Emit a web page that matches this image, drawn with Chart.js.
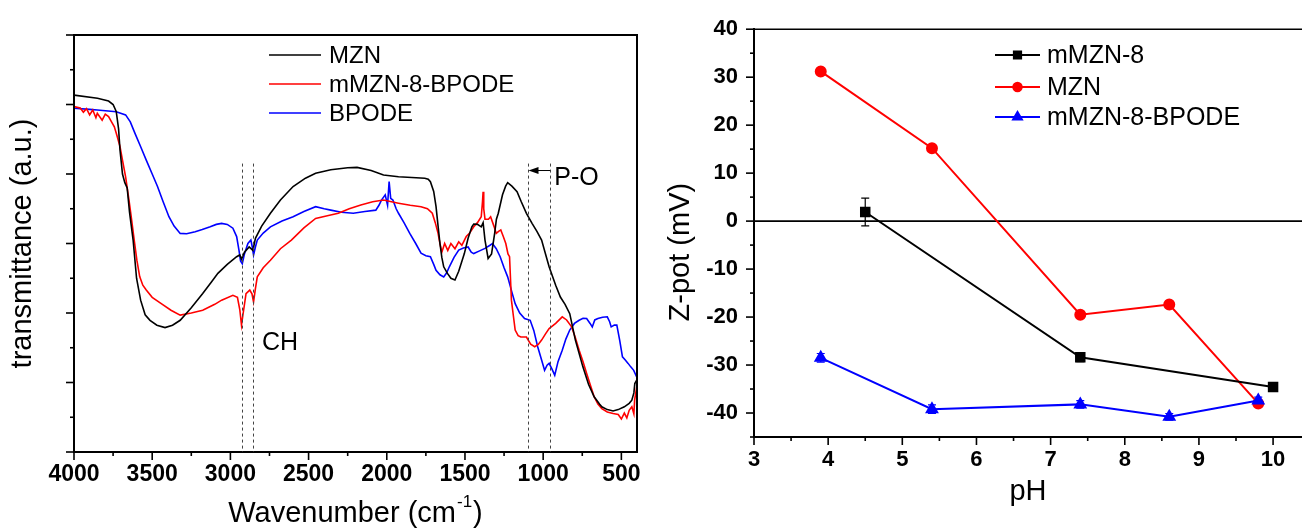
<!DOCTYPE html>
<html>
<head>
<meta charset="utf-8">
<script src="https://cdn.jsdelivr.net/npm/chart.js@4.4.1/dist/chart.umd.min.js"></script>
<style>
  html, body { margin: 0; padding: 0; background: #fff; }
  #wrap { position: relative; width: 1302px; height: 530px; overflow: hidden; }
  #ftir { position: absolute; left: 0; top: 0; }
  #zeta { position: absolute; left: 650px; top: 0; }
</style>
</head>
<body>
<div id="wrap">
  <canvas id="ftir" width="650" height="530"></canvas>
  <canvas id="zeta" width="652" height="530"></canvas>
</div>
<script>
// --- FTIR data (wavenumber / arbitrary transmittance) ---
const mznWave = [4000, 3850, 3779, 3750, 3730, 3715, 3706, 3690, 3675, 3660, 3645, 3622, 3600, 3574, 3545, 3514, 3470, 3418, 3370, 3321, 3250, 3177, 3120, 3080, 3020, 2960, 2940, 2929, 2910, 2880, 2856, 2840, 2800, 2744, 2680, 2599, 2520, 2455, 2358, 2250, 2190, 2100, 2021, 1925, 1840, 1757, 1735, 1721, 1700, 1685, 1672, 1660, 1648, 1636, 1612, 1590, 1564, 1540, 1504, 1480, 1456, 1444, 1420, 1396, 1384, 1372, 1352, 1330, 1310, 1299, 1287, 1260, 1240, 1227, 1200, 1167, 1140, 1107, 1071, 1040, 1010, 985, 962, 920, 890, 860, 830, 794, 746, 710, 674, 640, 625, 590, 553, 520, 481, 450, 433, 420, 414, 402];
const mznSignal = [10.27, 10.18, 10.10, 10.0, 9.8, 9.3, 8.7, 8.0, 7.75, 7.6, 6.9, 6.1, 5.0, 4.37, 3.95, 3.79, 3.65, 3.58, 3.65, 3.79, 4.15, 4.56, 4.9, 5.14, 5.4, 5.62, 5.67, 5.55, 5.75, 5.9, 5.8, 6.15, 6.5, 6.87, 7.25, 7.64, 7.88, 8.02, 8.12, 8.18, 8.19, 8.1, 7.97, 7.92, 7.9, 7.88, 7.85, 7.78, 7.5, 7.06, 6.5, 6.0, 5.6, 5.33, 5.14, 5.0, 4.95, 5.2, 5.71, 6.15, 6.48, 6.56, 6.55, 6.48, 6.6, 6.1, 5.57, 5.7, 6.3, 6.7, 6.87, 7.4, 7.65, 7.75, 7.65, 7.49, 7.2, 6.87, 6.58, 6.35, 6.1, 5.7, 5.33, 4.8, 4.46, 4.25, 3.98, 3.22, 2.45, 1.95, 1.59, 1.38, 1.30, 1.22, 1.18, 1.22, 1.30, 1.40, 1.49, 1.7, 1.97, 2.07];

const hybridWave = [4000, 3960, 3940, 3920, 3900, 3880, 3860, 3851, 3820, 3800, 3779, 3760, 3742, 3725, 3706, 3690, 3670, 3650, 3634, 3615, 3598, 3580, 3560, 3538, 3500, 3442, 3380, 3321, 3250, 3177, 3100, 3056, 2984, 2955, 2940, 2929, 2918, 2900, 2876, 2862, 2852, 2840, 2828, 2790, 2744, 2680, 2610, 2530, 2455, 2380, 2310, 2240, 2166, 2090, 2021, 1970, 1925, 1850, 1781, 1740, 1709, 1690, 1672, 1660, 1648, 1630, 1610, 1590, 1564, 1540, 1520, 1492, 1470, 1444, 1420, 1396, 1388, 1384, 1380, 1372, 1350, 1336, 1315, 1300, 1285, 1271, 1255, 1239, 1225, 1215, 1203, 1190, 1179, 1160, 1143, 1107, 1080, 1054, 1030, 1010, 985, 962, 920, 878, 850, 818, 795, 770, 745, 722, 700, 674, 650, 625, 590, 553, 520, 500, 481, 465, 450, 433, 420, 415, 402];
const hybridSignal = [9.94, 9.90, 9.78, 9.88, 9.70, 9.84, 9.62, 9.75, 9.55, 9.72, 9.65, 9.50, 9.36, 9.1, 8.79, 8.4, 7.92, 7.3, 6.77, 6.1, 5.52, 5.05, 4.8, 4.66, 4.45, 4.27, 4.08, 3.94, 4.0, 4.08, 4.25, 4.37, 4.51, 4.45, 4.1, 3.65, 4.0, 4.56, 4.66, 4.55, 4.32, 4.7, 5.04, 5.3, 5.52, 5.85, 6.1, 6.45, 6.72, 6.8, 6.87, 7.0, 7.11, 7.2, 7.25, 7.2, 7.16, 7.1, 7.06, 7.0, 6.87, 6.6, 6.29, 6.0, 5.75, 6.0, 5.8, 6.0, 5.85, 6.05, 5.95, 6.2, 6.3, 6.48, 6.6, 6.77, 7.2, 7.49, 7.0, 6.7, 6.7, 6.77, 6.5, 6.29, 6.35, 6.39, 6.2, 6.0, 5.7, 5.62, 4.37, 3.9, 3.51, 3.35, 3.31, 3.31, 3.1, 3.03, 3.1, 3.22, 3.4, 3.55, 3.7, 3.89, 3.8, 3.60, 3.3, 2.93, 2.6, 2.26, 1.95, 1.59, 1.38, 1.25, 1.15, 1.11, 1.08, 0.95, 1.12, 0.98, 1.2, 1.30, 1.1, 1.5, 1.87];

const bpodeWave = [4000, 3900, 3851, 3730, 3670, 3640, 3610, 3575, 3538, 3500, 3466, 3430, 3393, 3360, 3321, 3280, 3225, 3180, 3129, 3090, 3056, 3020, 2984, 2960, 2945, 2935, 2924, 2910, 2888, 2869, 2860, 2852, 2840, 2828, 2790, 2744, 2670, 2599, 2530, 2455, 2400, 2358, 2290, 2214, 2140, 2070, 2050, 2034, 2010, 1995, 1985, 1975, 1961, 1940, 1925, 1890, 1853, 1815, 1781, 1750, 1721, 1700, 1685, 1660, 1636, 1618, 1600, 1570, 1540, 1510, 1480, 1460, 1444, 1410, 1372, 1340, 1324, 1300, 1275, 1250, 1227, 1200, 1179, 1150, 1119, 1083, 1060, 1035, 1010, 991, 975, 962, 945, 926, 905, 878, 855, 830, 800, 770, 745, 722, 700, 686, 670, 650, 620, 590, 575, 565, 545, 529, 510, 493, 475, 457, 440, 421, 402];
const bpodeSignal = [9.89, 9.86, 9.84, 9.79, 9.70, 9.5, 9.17, 8.8, 8.40, 8.0, 7.64, 7.2, 6.77, 6.5, 6.29, 6.28, 6.34, 6.4, 6.48, 6.55, 6.58, 6.55, 6.44, 6.2, 5.8, 5.5, 5.42, 5.7, 6.0, 6.10, 5.9, 5.67, 5.9, 6.10, 6.3, 6.48, 6.65, 6.77, 6.92, 7.06, 7.0, 6.96, 6.9, 6.87, 6.92, 6.96, 7.1, 7.25, 7.4, 7.1, 7.78, 7.3, 7.25, 7.0, 6.87, 6.6, 6.29, 6.0, 5.72, 5.65, 5.62, 5.4, 5.23, 5.1, 5.04, 5.15, 5.33, 5.6, 5.81, 5.87, 5.90, 5.75, 5.71, 5.78, 5.86, 5.95, 6.0, 5.85, 5.62, 5.3, 5.04, 4.6, 4.27, 4.0, 3.84, 3.79, 3.5, 3.03, 2.65, 2.35, 2.5, 2.55, 2.4, 2.21, 2.6, 2.93, 3.25, 3.51, 3.7, 3.79, 3.85, 3.84, 3.7, 3.60, 3.8, 3.84, 3.88, 3.89, 3.75, 3.60, 3.65, 3.65, 3.2, 2.74, 2.65, 2.55, 2.45, 2.35, 2.16];

const ftirLabels = ['MZN', 'mMZN-8-BPODE', 'BPODE'];
const ftirXTicks = [4000, 3500, 3000, 2500, 2000, 1500, 1000, 500];
const chBands = [2925, 2855];
const poBands = [1100, 955];

// --- Zeta potential data ---
const zetaLabels = ['mMZN-8', 'MZN', 'mMZN-8-BPODE'];
const phMmzn8 = [4.5, 7.4, 10];
const zetaMmzn8 = [1.9, -28.4, -34.6];
const errMmzn8 = [2.9, 0.9, 0.5];
const phMzn = [3.9, 5.4, 7.4, 8.6, 9.8];
const zetaMzn = [31.2, 15.2, -19.5, -17.4, -38.0];
const errMzn = [0.6, 0.6, 0.6, 0.6, 0.6];
const phBpode = [3.9, 5.4, 7.4, 8.6, 9.8];
const zetaBpode = [-28.5, -39.2, -38.2, -40.8, -37.4];
const errBpode = [0.9, 0.9, 0.8, 0.7, 0.7];
const phTicks = [3, 4, 5, 6, 7, 8, 9, 10];
const zetaTicks = [-40, -30, -20, -10, 0, 10, 20, 30, 40];

const FONT = "Arial, 'Liberation Sans', Helvetica, sans-serif";
const toPoints = (xs, ys) => xs.map((x, i) => ({ x, y: ys[i] }));
const plain = v => String(v);

// outward tick marks, major and minor
const tickMarks = {
  id: 'tickMarks',
  afterDraw(chart, args, opts) {
    const ctx = chart.ctx;
    const area = chart.chartArea;
    ctx.save();
    ctx.strokeStyle = '#000';
    ctx.lineWidth = 1.6;
    Object.entries(opts.axes || {}).forEach(([id, cfg]) => {
      const scale = chart.scales[id];
      const lo = Math.min(scale.min, scale.max);
      const hi = Math.max(scale.min, scale.max);
      const start = Math.ceil((lo - 1e-9) / cfg.minor) * cfg.minor;
      for (let v = start; v <= hi + 1e-9; v += cfg.minor) {
        const r = v / cfg.major;
        const len = Math.abs(r - Math.round(r)) < 1e-6 ? 8 : 4;
        const p = scale.getPixelForValue(v);
        ctx.beginPath();
        if (scale.isHorizontal()) {
          ctx.moveTo(p, area.bottom);
          ctx.lineTo(p, area.bottom + len);
        } else {
          ctx.moveTo(area.left, p);
          ctx.lineTo(area.left - len, p);
        }
        ctx.stroke();
      }
    });
    ctx.restore();
  }
};

// legend: short line (+ marker) and label
const lineLegend = {
  id: 'lineLegend',
  afterDraw(chart, args, opts) {
    const ctx = chart.ctx;
    ctx.save();
    ctx.font = opts.font;
    ctx.textBaseline = 'middle';
    ctx.fillStyle = '#000';
    chart.data.datasets.forEach((ds, i) => {
      const y = opts.rows[i];
      ctx.strokeStyle = ds.borderColor;
      ctx.lineWidth = ds.borderWidth;
      ctx.beginPath();
      ctx.moveTo(opts.x0, y);
      ctx.lineTo(opts.x1, y);
      ctx.stroke();
      if (ds.pointRadius > 0) {
        ctx.fillStyle = ds.pointBackgroundColor;
        Chart.helpers.drawPoint(ctx, { pointStyle: ds.pointStyle, radius: ds.pointRadius * 0.85, borderWidth: 1, rotation: 0 }, (opts.x0 + opts.x1) / 2, y);
      }
      ctx.fillStyle = '#000';
      ctx.fillText(ds.label, opts.textX, y + 1);
    });
    ctx.restore();
  }
};

// FTIR extras: frame, band markers, x title
const ftirNotes = {
  id: 'ftirNotes',
  afterDraw(chart) {
    const { ctx, chartArea: a, scales: { x, y } } = chart;
    ctx.save();
    ctx.strokeStyle = '#000';
    ctx.lineWidth = 2;
    ctx.strokeRect(a.left, a.top, a.right - a.left, a.bottom - a.top);

    ctx.lineWidth = 1;
    ctx.strokeStyle = '#444';
    ctx.setLineDash([3, 3]);
    chBands.concat(poBands).forEach(w => {
      const px = Math.round(x.getPixelForValue(w)) + 0.5;
      ctx.beginPath();
      ctx.moveTo(px, y.getPixelForValue(8.3));
      ctx.lineTo(px, a.bottom);
      ctx.stroke();
    });
    ctx.setLineDash([]);

    ctx.fillStyle = '#000';
    ctx.font = '25px ' + FONT;
    ctx.textBaseline = 'middle';
    ctx.textAlign = 'center';
    ctx.fillText('CH', x.getPixelForValue(2683), y.getPixelForValue(3.12));
    ctx.textAlign = 'left';
    ctx.fillText('P-O', x.getPixelForValue(poBands[1]) + 4, y.getPixelForValue(7.88));

    // arrow from 955 to 1100
    const ay = y.getPixelForValue(8.1);
    const ax0 = x.getPixelForValue(poBands[1]);
    const ax1 = x.getPixelForValue(poBands[0]) + 1;
    ctx.strokeStyle = '#000';
    ctx.lineWidth = 1;
    ctx.beginPath();
    ctx.moveTo(ax0, ay);
    ctx.lineTo(ax1 + 8, ay);
    ctx.stroke();
    ctx.beginPath();
    ctx.moveTo(ax1, ay);
    ctx.lineTo(ax1 + 10, ay - 3.5);
    ctx.lineTo(ax1 + 10, ay + 3.5);
    ctx.closePath();
    ctx.fill();

    // x title with superscript
    const cx = (a.left + a.right) / 2;
    const ty = a.bottom + 62;
    const main = 'Wavenumber (cm';
    const sup = '-1';
    ctx.font = '29px ' + FONT;
    const wMain = ctx.measureText(main).width;
    const wClose = ctx.measureText(')').width;
    ctx.font = '17px ' + FONT;
    const wSup = ctx.measureText(sup).width;
    const left = cx - (wMain + wSup + wClose + 2) / 2;
    ctx.textAlign = 'left';
    ctx.font = '29px ' + FONT;
    ctx.fillText(main, left, ty);
    ctx.font = '17px ' + FONT;
    ctx.fillText(sup, left + wMain + 1, ty - 12);
    ctx.font = '29px ' + FONT;
    ctx.fillText(')', left + wMain + wSup + 2, ty);
    ctx.restore();
  }
};

// zeta extras: zero line, top frame, error bars, y title
const zetaNotes = {
  id: 'zetaNotes',
  beforeDatasetsDraw(chart) {
    const { ctx, chartArea: a, scales: { x, y } } = chart;
    ctx.save();
    ctx.strokeStyle = '#000';
    ctx.lineWidth = 1.6;
    const y0 = y.getPixelForValue(0);
    ctx.beginPath();
    ctx.moveTo(a.left, y0);
    ctx.lineTo(a.right, y0);
    ctx.moveTo(a.left, a.top);
    ctx.lineTo(a.right, a.top);
    ctx.stroke();

    chart.data.datasets.forEach(ds => {
      ctx.strokeStyle = ds.borderColor;
      ctx.lineWidth = 1.2;
      ds.data.forEach((pt, j) => {
        const e = ds.errors[j];
        const px = x.getPixelForValue(pt.x);
        const t = y.getPixelForValue(pt.y + e);
        const b = y.getPixelForValue(pt.y - e);
        ctx.beginPath();
        ctx.moveTo(px, t); ctx.lineTo(px, b);
        ctx.moveTo(px - 4, t); ctx.lineTo(px + 4, t);
        ctx.moveTo(px - 4, b); ctx.lineTo(px + 4, b);
        ctx.stroke();
      });
    });
    ctx.restore();
  },
  afterDraw(chart) {
    const { ctx, chartArea: a } = chart;
    ctx.save();
    ctx.translate(a.left - 73, (a.top + a.bottom) / 2 + 19);
    ctx.rotate(-Math.PI / 2);
    ctx.font = '29px ' + FONT;
    ctx.fillStyle = '#000';
    ctx.textAlign = 'center';
    ctx.textBaseline = 'middle';
    ctx.fillText('Z-pot (mV)', 0, 0);
    ctx.restore();
  }
};

const ftirColors = ['#000000', '#ff0000', '#0000ff'];
const ftirSeries = [[mznWave, mznSignal], [hybridWave, hybridSignal], [bpodeWave, bpodeSignal]];

new Chart(document.getElementById('ftir'), {
  type: 'line',
  data: {
    datasets: ftirSeries.map(([w, s], i) => ({
      label: ftirLabels[i],
      data: toPoints(w, s),
      borderColor: ftirColors[i],
      borderWidth: 1.6,
      pointRadius: 0,
      tension: 0
    }))
  },
  options: {
    responsive: false,
    animation: false,
    layout: { autoPadding: false, padding: { top: 35, right: 13, left: 0, bottom: 0 } },
    scales: {
      x: {
        type: 'linear', reverse: true, min: 400, max: 4000,
        afterBuildTicks: s => { s.ticks = ftirXTicks.map(v => ({ value: v })); },
        afterFit: s => { s.height = 78; },
        grid: { display: false, drawTicks: false },
        border: { color: '#000', width: 2 },
        ticks: { color: '#000', font: { family: FONT, size: 23, weight: 'bold' }, padding: 9, maxRotation: 0, autoSkip: false, callback: plain }
      },
      y: {
        type: 'linear', min: 0, max: 12,
        afterFit: s => { s.width = 74; },
        grid: { display: false, drawTicks: false },
        border: { color: '#000', width: 2 },
        ticks: { display: false },
        title: { display: true, text: 'transmittance (a.u.)', color: '#000', font: { family: FONT, size: 29 }, padding: { top: 6, bottom: 0 } }
      }
    },
    plugins: {
      legend: { display: false },
      tooltip: { enabled: false },
      tickMarks: { axes: { x: { minor: 250, major: 500 }, y: { minor: 1, major: 2 } } },
      lineLegend: { x0: 269, x1: 321, textX: 329, rows: [55, 84, 113], font: '24px ' + FONT }
    }
  },
  plugins: [tickMarks, ftirNotes, lineLegend]
});

const zetaSeries = [
  { ph: phMmzn8, z: zetaMmzn8, err: errMmzn8, color: '#000000', style: 'rect', r: 6, order: 1 },
  { ph: phMzn, z: zetaMzn, err: errMzn, color: '#ff0000', style: 'circle', r: 5, order: 2 },
  { ph: phBpode, z: zetaBpode, err: errBpode, color: '#0000ff', style: 'triangle', r: 6, order: 0 }
];

new Chart(document.getElementById('zeta'), {
  type: 'line',
  data: {
    datasets: zetaSeries.map((s, i) => ({
      label: zetaLabels[i],
      data: toPoints(s.ph, s.z),
      errors: s.err,
      borderColor: s.color,
      backgroundColor: s.color,
      pointBackgroundColor: s.color,
      pointBorderColor: s.color,
      pointStyle: s.style,
      pointRadius: s.r,
      borderWidth: 2,
      tension: 0,
      order: s.order,
      clip: false
    }))
  },
  options: {
    responsive: false,
    animation: false,
    layout: { autoPadding: false, padding: { top: 27, right: 0, left: 0, bottom: 0 } },
    scales: {
      x: {
        type: 'linear', min: 3, max: 10.39,
        afterBuildTicks: s => { s.ticks = phTicks.map(v => ({ value: v })); },
        afterFit: s => { s.height = 93; s.paddingRight = 0; s.paddingLeft = 0; },
        grid: { display: false, drawTicks: false },
        border: { color: '#000', width: 2 },
        ticks: { color: '#000', font: { family: FONT, size: 22, weight: 'bold' }, padding: 10, maxRotation: 0, autoSkip: false, callback: plain },
        title: { display: true, text: 'pH', color: '#000', font: { family: FONT, size: 29 }, padding: { top: 0, bottom: 21 } }
      },
      y: {
        type: 'linear', min: -45, max: 40,
        afterBuildTicks: s => { s.ticks = zetaTicks.map(v => ({ value: v })); },
        afterFit: s => { s.width = 104; },
        grid: { display: false, drawTicks: false },
        border: { color: '#000', width: 2 },
        ticks: { color: '#000', font: { family: FONT, size: 22, weight: 'bold' }, padding: 16, callback: plain }
      }
    },
    plugins: {
      legend: { display: false },
      tooltip: { enabled: false },
      tickMarks: { axes: { x: { minor: 0.5, major: 1 }, y: { minor: 5, major: 10 } } },
      lineLegend: { x0: 345, x1: 390, textX: 397, rows: [55, 87, 117], font: '25px ' + FONT }
    }
  },
  plugins: [tickMarks, zetaNotes, lineLegend]
});
</script>
</body>
</html>
